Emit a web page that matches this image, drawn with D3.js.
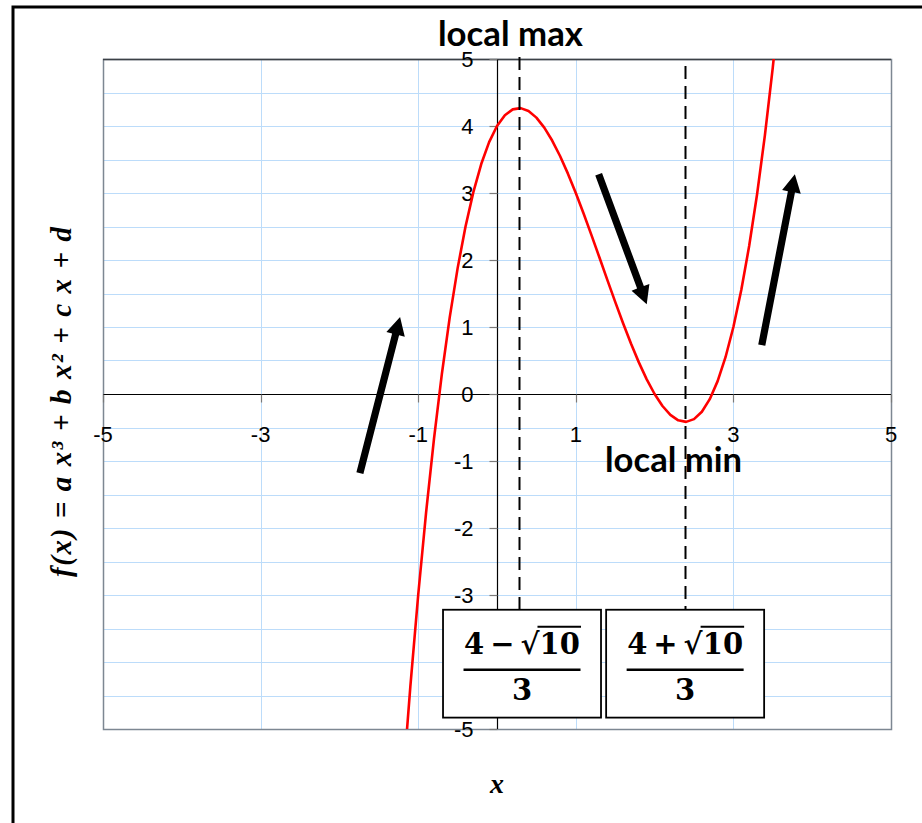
<!DOCTYPE html>
<html>
<head>
<meta charset="utf-8">
<script src="https://cdn.jsdelivr.net/npm/d3@7"></script>
<style>
  body { margin: 0; background: #fff; }
  svg { display: block; }
</style>
</head>
<body>
<svg id="chart" width="922" height="823"></svg>
<script>
// Sampled cubic f(x) = x^3 - 4x^2 + 2x + 4
const xValues = [-1.2, -1.1, -1.0, -0.9, -0.8, -0.7, -0.6, -0.5, -0.4, -0.3, -0.2, -0.1,
  0.0, 0.1, 0.2, 0.3, 0.4, 0.5, 0.6, 0.7, 0.8, 0.9, 1.0, 1.1, 1.2, 1.3, 1.4, 1.5,
  1.6, 1.7, 1.8, 1.9, 2.0, 2.1, 2.2, 2.3, 2.4, 2.5, 2.6, 2.7, 2.8, 2.9, 3.0, 3.1,
  3.2, 3.3, 3.4, 3.5, 3.6];
const yValues = [-5.888, -4.371, -3.0, -1.769, -0.672, 0.297, 1.144, 1.875, 2.496, 3.013, 3.432, 3.759,
  4.0, 4.161, 4.248, 4.267, 4.224, 4.125, 3.976, 3.783, 3.552, 3.289, 3.0, 2.691, 2.368, 2.037, 1.704, 1.375,
  1.056, 0.753, 0.472, 0.219, 0.0, -0.179, -0.312, -0.393, -0.416, -0.375, -0.264, -0.077, 0.192, 0.549, 1.0, 1.551,
  2.208, 2.977, 3.864, 4.875, 6.016];

const xTickValues = [-5, -3, -1, 1, 3, 5];
const yTickValues = [-5, -4, -3, -2, -1, 0, 1, 2, 3, 4, 5];
const xDomain = [-5, 5];
const yDomain = [-5, 5];

// Critical points (4 ∓ √10)/3
const criticalX = [(4 - Math.sqrt(10)) / 3, (4 + Math.sqrt(10)) / 3];
const criticalLabels = ["local max", "local min"];
const criticalNumerators = [["4\u2009\u2212\u2009\u221A", "10"], ["4\u2009+\u2009\u221A", "10"]];

// Direction arrows: tail and tip in data units
const arrowTails = [[-1.74, -1.18], [1.29, 3.28], [3.36, 0.73]];
const arrowTips = [[-1.23, 1.15], [1.90, 1.34], [3.78, 3.28]];

const svg = d3.select("#chart");
const W = 922, H = 823;
const plot = { left: 103, right: 891, top: 59, bottom: 729 };

const x = d3.scaleLinear().domain(xDomain).range([plot.left, plot.right]);
const y = d3.scaleLinear().domain(yDomain).range([plot.bottom, plot.top]);

// outer frame
svg.append("rect")
  .attr("x", 13).attr("y", 7)
  .attr("width", W + 20).attr("height", H + 20)
  .attr("fill", "#fff").attr("stroke", "#000").attr("stroke-width", 3);

// gridlines
const grid = svg.append("g").attr("stroke", "#bcdcfa").attr("stroke-width", 1);
grid.selectAll("line.h").data(d3.range(-5, 5.001, 0.5)).join("line")
  .attr("x1", plot.left).attr("x2", plot.right)
  .attr("y1", d => Math.round(y(d)) + 0.5).attr("y2", d => Math.round(y(d)) + 0.5);
grid.selectAll("line.v").data(xTickValues).join("line")
  .attr("y1", plot.top).attr("y2", plot.bottom)
  .attr("x1", d => Math.round(x(d)) + 0.5).attr("x2", d => Math.round(x(d)) + 0.5);

// plot-area border
svg.append("rect")
  .attr("x", plot.left + 0.5).attr("y", plot.top + 0.5)
  .attr("width", plot.right - plot.left).attr("height", plot.bottom - plot.top)
  .attr("fill", "none").attr("stroke", "#7d8792").attr("stroke-width", 1.5);
svg.append("line")
  .attr("x1", plot.left).attr("x2", plot.right)
  .attr("y1", plot.top + 0.5).attr("y2", plot.top + 0.5)
  .attr("stroke", "#3c4046").attr("stroke-width", 1.5);

// axes through the origin
const x0 = Math.round(x(0)) + 0.5, y0 = Math.round(y(0)) + 0.5;
svg.append("line").attr("x1", plot.left).attr("x2", plot.right)
  .attr("y1", y0).attr("y2", y0).attr("stroke", "#000").attr("stroke-width", 1.2);
svg.append("line").attr("x1", x0).attr("x2", x0)
  .attr("y1", plot.top).attr("y2", plot.bottom).attr("stroke", "#000").attr("stroke-width", 1.2);

// tick marks
svg.append("g").selectAll("line").data(xTickValues).join("line")
  .attr("x1", d => Math.round(x(d)) + 0.5).attr("x2", d => Math.round(x(d)) + 0.5)
  .attr("y1", y0).attr("y2", y0 + 8)
  .attr("stroke", "#7a7a7a").attr("stroke-width", 1.2);
svg.append("g").selectAll("line").data(yTickValues).join("line")
  .attr("x1", x0 - 8).attr("x2", x0)
  .attr("y1", d => Math.round(y(d)) + 0.5).attr("y2", d => Math.round(y(d)) + 0.5)
  .attr("stroke", "#7a7a7a").attr("stroke-width", 1.2);

// tick labels
const tickFont = "'Liberation Sans', Arial, sans-serif";
svg.append("g").selectAll("text").data(xTickValues).join("text")
  .attr("x", d => x(d)).attr("y", y0 + 47)
  .attr("text-anchor", "middle")
  .attr("font-family", tickFont).attr("font-size", 22).attr("fill", "#000")
  .text(d => d);
svg.append("g").selectAll("text").data(yTickValues).join("text")
  .attr("x", x0 - 24).attr("y", d => y(d))
  .attr("dy", "0.36em")
  .attr("text-anchor", "end")
  .attr("font-family", tickFont).attr("font-size", 22).attr("fill", "#000")
  .text(d => d);

// curve, clipped to the plot area
svg.append("clipPath").attr("id", "plotClip")
  .append("rect").attr("x", plot.left).attr("y", plot.top)
  .attr("width", plot.right - plot.left).attr("height", plot.bottom - plot.top);

const pts = xValues.map((v, i) => [v, yValues[i]]);
svg.append("path")
  .datum(pts)
  .attr("clip-path", "url(#plotClip)")
  .attr("fill", "none").attr("stroke", "#ff0000").attr("stroke-width", 2.6)
  .attr("stroke-linejoin", "round")
  .attr("d", d3.line().x(d => x(d[0])).y(d => y(d[1])));

// fraction boxes in data units: [x0, x1], shared top/bottom
const boxX = [[-0.685, 1.32], [1.385, 3.39]];
const boxTop = -3.22, boxBottom = -4.83;

// dashed verticals at the critical points
const dashStart = [5.03, 5.0];
const dashOffsets = [0, 13];
svg.append("g").selectAll("line").data(criticalX).join("line")
  .attr("x1", d => Math.round(x(d)) + 0.5).attr("x2", d => Math.round(x(d)) + 0.5)
  .attr("y1", (d, i) => y(dashStart[i])).attr("y2", y(boxTop))
  .attr("stroke", "#000").attr("stroke-width", 2)
  .attr("stroke-dasharray", "13,7")
  .attr("stroke-dashoffset", (d, i) => dashOffsets[i]);

// arrows
function arrowPath(t, p) {
  const tx = x(t[0]), ty = y(t[1]), px = x(p[0]), py = y(p[1]);
  const dx = px - tx, dy = py - ty, len = Math.hypot(dx, dy);
  const ux = dx / len, uy = dy / len, nx = -uy, ny = ux;
  const shaft = 3.6, headW = 9.5, headL = 18;
  const bx = px - ux * headL, by = py - uy * headL;
  return [
    [tx + nx * shaft, ty + ny * shaft],
    [bx + nx * shaft, by + ny * shaft],
    [bx + nx * headW, by + ny * headW],
    [px, py],
    [bx - nx * headW, by - ny * headW],
    [bx - nx * shaft, by - ny * shaft],
    [tx - nx * shaft, ty - ny * shaft]
  ].map(q => q.join(",")).join(" ");
}
svg.append("g").selectAll("polygon").data(arrowTails).join("polygon")
  .attr("points", (d, i) => arrowPath(d, arrowTips[i]))
  .attr("fill", "#000");

// local max / local min labels
const labelPos = [[0.171, 5.19], [2.24, -1.17]];
svg.append("g").selectAll("text").data(criticalLabels).join("text")
  .attr("x", (d, i) => x(labelPos[i][0])).attr("y", (d, i) => y(labelPos[i][1]))
  .attr("text-anchor", "middle")
  .attr("font-family", "Lato, 'Open Sans', sans-serif")
  .attr("font-weight", "bold").attr("font-size", 34).attr("fill", "#000")
  .attr("textLength", (d, i) => i === 0 ? 145 : 137)
  .attr("lengthAdjust", "spacingAndGlyphs")
  .text(d => d);

// fraction boxes
const mathFont = "'DejaVu Serif', 'Liberation Serif', serif";
boxX.forEach((bx, i) => {
  const g = svg.append("g");
  const left = x(bx[0]), right = x(bx[1]);
  const top = y(boxTop), bottom = y(boxBottom);
  g.append("rect")
    .attr("x", left).attr("y", top)
    .attr("width", right - left).attr("height", bottom - top)
    .attr("fill", "#fff").attr("stroke", "#000").attr("stroke-width", 1.8);
  const cx = (left + right) / 2;
  const barHalf = 58.5;
  const barY = top + 60;
  g.append("line")
    .attr("x1", cx - barHalf).attr("x2", cx + barHalf)
    .attr("y1", barY).attr("y2", barY)
    .attr("stroke", "#000").attr("stroke-width", 2.4);
  const num = g.append("text")
    .attr("x", cx).attr("y", barY - 16)
    .attr("text-anchor", "middle")
    .attr("font-family", mathFont).attr("font-weight", "bold")
    .attr("font-size", 29).attr("fill", "#000")
    .attr("textLength", 116).attr("lengthAdjust", "spacing");
  num.append("tspan").text(criticalNumerators[i][0]);
  num.append("tspan").text(criticalNumerators[i][1]);
  // radical overline across the digits under the root
  const node = num.node();
  const n0 = criticalNumerators[i][0].length;
  const n1 = n0 + criticalNumerators[i][1].length;
  const rootEnd = node.getEndPositionOfChar(n0 - 1).x;
  const digitsEnd = node.getEndPositionOfChar(n1 - 1).x;
  g.append("line")
    .attr("x1", rootEnd - 2).attr("x2", digitsEnd + 1)
    .attr("y1", barY - 43).attr("y2", barY - 43)
    .attr("stroke", "#000").attr("stroke-width", 2.2);
  g.append("text")
    .attr("x", cx).attr("y", barY + 30)
    .attr("text-anchor", "middle")
    .attr("font-family", mathFont).attr("font-weight", "bold")
    .attr("font-size", 29).attr("fill", "#000")
    .text("3");
});

// axis titles
const titleFont = "'Liberation Serif', 'DejaVu Serif', serif";
svg.append("text")
  .attr("x", x(0)).attr("y", 793)
  .attr("text-anchor", "middle")
  .attr("font-family", titleFont).attr("font-style", "italic").attr("font-weight", "bold")
  .attr("font-size", 28).attr("fill", "#000")
  .text("x");

svg.append("text")
  .attr("transform", "translate(71,402) rotate(-90)")
  .attr("text-anchor", "middle")
  .attr("font-family", titleFont).attr("font-style", "italic").attr("font-weight", "bold")
  .attr("font-size", 29).attr("fill", "#000")
  .attr("textLength", 350).attr("lengthAdjust", "spacing")
  .text("f(x) = a x³ + b x² + c x + d");
</script>
</body>
</html>
